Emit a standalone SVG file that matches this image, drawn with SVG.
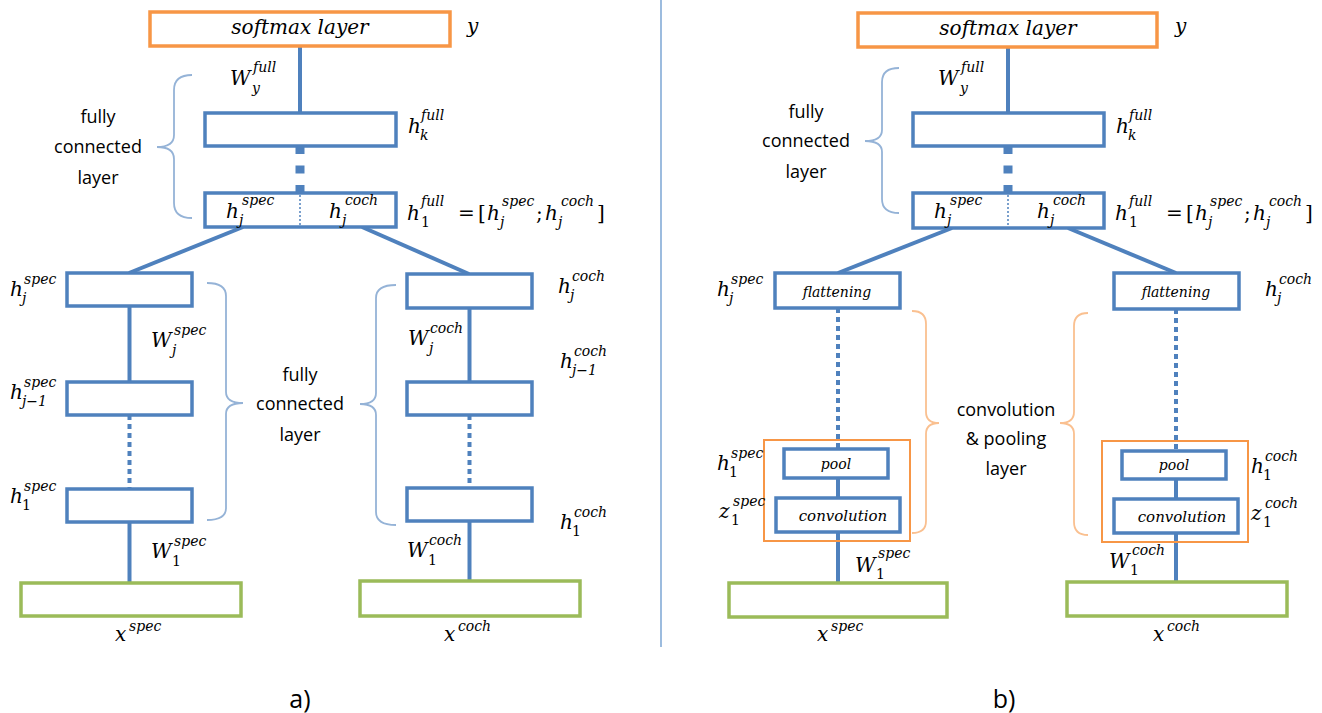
<svg xmlns="http://www.w3.org/2000/svg" width="1322" height="713" viewBox="0 0 1322 713">
<style>
.b{fill:#fff;stroke:#4F81BD;stroke-width:3.5}
.o{fill:#fff;stroke:#F79646;stroke-width:3.5}
.oc{fill:none;stroke:#F79646;stroke-width:2}
.g{fill:#fff;stroke:#9BBB59;stroke-width:3.5}
.c{stroke:#4F81BD;stroke-width:4;fill:none}
.d{stroke:#4F81BD;stroke-width:4;stroke-dasharray:5 4;fill:none}
.dd{stroke:#4F81BD;stroke-width:9;stroke-dasharray:8 11.5;fill:none}
.thin{stroke:#4F81BD;stroke-width:1.5;stroke-dasharray:2 2;fill:none}
.br{fill:none;stroke:#95B3D7;stroke-width:1.8}
.bro{fill:none;stroke:#FAC090;stroke-width:1.8}
.m{font-family:"DejaVu Serif",serif;font-style:italic;font-size:20px;fill:#000}
.s{font-size:14px}
.u{font-style:normal}
.bx{font-family:"DejaVu Serif",serif;font-style:italic;font-size:14px;fill:#000;text-anchor:middle}
.t{font-family:"Open Sans",sans-serif;font-size:18px;fill:#000;text-anchor:middle}
.cap{font-family:"Open Sans",sans-serif;font-size:25px;fill:#000;text-anchor:middle}
</style>

<line x1="661" y1="0" x2="661" y2="647" stroke="#5B8FC9" stroke-width="1.2"/>

<g id="connectors">
  <line class="c" x1="300" y1="46" x2="300" y2="113"/>
  <line class="dd" x1="300" y1="146" x2="300" y2="193"/>
  <line class="c" x1="243" y1="227" x2="129" y2="273"/>
  <line class="c" x1="362" y1="227" x2="469" y2="274"/>
  <line class="c" x1="129.5" y1="306" x2="129.5" y2="382"/>
  <line class="d" x1="129.5" y1="415" x2="129.5" y2="489"/>
  <line class="c" x1="129.5" y1="522" x2="129.5" y2="583"/>
  <line class="c" x1="469.5" y1="308" x2="469.5" y2="382"/>
  <line class="d" x1="469.5" y1="415" x2="469.5" y2="488"/>
  <line class="c" x1="469.5" y1="521" x2="469.5" y2="581"/>

  <line class="c" x1="1008" y1="47" x2="1008" y2="113"/>
  <line class="dd" x1="1008" y1="146" x2="1008" y2="193"/>
  <line class="c" x1="952" y1="228" x2="838" y2="273"/>
  <line class="c" x1="1068" y1="228" x2="1176" y2="273"/>
  <line class="d" x1="838" y1="308" x2="838" y2="449"/>
  <line class="c" x1="838" y1="478" x2="838" y2="498"/>
  <line class="c" x1="838" y1="532" x2="838" y2="583"/>
  <line class="d" x1="1176" y1="309" x2="1176" y2="451"/>
  <line class="c" x1="1176" y1="479" x2="1176" y2="499"/>
  <line class="c" x1="1176" y1="533" x2="1176" y2="582"/>
</g>

<g id="braces">
  <path class="br" d="M192 75 Q174 75 174 90 L174 135 Q174 147 157 147 Q174 147 174 159 L174 203 Q174 218 192 218"/>
  <path class="br" d="M207 283 Q226 283 226 296 L226 392 Q226 403 243 403 Q226 403 226 414 L226 508 Q226 520 207 520"/>
  <path class="br" d="M396 285 Q376 285 376 298 L376 393 Q376 404 360 404 Q376 404 376 415 L376 512 Q376 525 396 525"/>
  <path class="br" d="M899 68 Q882 68 882 82 L882 130 Q882 141 865 141 Q882 141 882 152 L882 199 Q882 213 899 213"/>
  <path class="bro" d="M912 311 Q926 311 926 324 L926 412 Q926 423 939 423 Q926 423 926 434 L926 521 Q926 533 912 533"/>
  <path class="bro" d="M1088 313 Q1074 313 1074 326 L1074 412 Q1074 423 1060 423 Q1074 423 1074 434 L1074 522 Q1074 535 1088 535"/>
</g>

<!-- Panel a nodes -->
<g id="a-softmax"><rect class="o" x="150" y="12" width="300" height="34"/><text class="m" x="300" y="34" text-anchor="middle">softmax layer</text></g>
<g id="a-hk"><rect class="b" x="205" y="113" width="191" height="33"/></g>
<g id="a-h1"><rect class="b" x="205" y="193" width="191" height="34"/><line class="thin" x1="300" y1="195" x2="300" y2="225"/>
  <text class="m" x="226" y="218">h</text><text class="m s" x="242" y="205">spec</text><text class="m s" x="239" y="225">j</text>
  <text class="m" x="329" y="218">h</text><text class="m s" x="345" y="205">coch</text><text class="m s" x="342" y="225">j</text>
</g>
<g id="a-spec-hj"><rect class="b" x="67" y="273" width="125" height="33"/></g>
<g id="a-spec-hj1"><rect class="b" x="67" y="382" width="125" height="33"/></g>
<g id="a-spec-h1"><rect class="b" x="67" y="489" width="125" height="33"/></g>
<g id="a-coch-hj"><rect class="b" x="407" y="274" width="125" height="34"/></g>
<g id="a-coch-hj1"><rect class="b" x="407" y="382" width="125" height="33"/></g>
<g id="a-coch-h1"><rect class="b" x="407" y="488" width="125" height="33"/></g>
<g id="a-xspec"><rect class="g" x="21" y="583" width="220" height="33"/></g>
<g id="a-xcoch"><rect class="g" x="360" y="581" width="220" height="35"/></g>

<!-- Panel b nodes -->
<g id="b-softmax"><rect class="o" x="858" y="13" width="299" height="34"/><text class="m" x="1008" y="35" text-anchor="middle">softmax layer</text></g>
<g id="b-hk"><rect class="b" x="913" y="113" width="191" height="33"/></g>
<g id="b-h1"><rect class="b" x="913" y="193" width="191" height="35"/><line class="thin" x1="1008" y1="195" x2="1008" y2="226"/>
  <text class="m" x="934" y="218">h</text><text class="m s" x="950" y="205">spec</text><text class="m s" x="947" y="225">j</text>
  <text class="m" x="1037" y="218">h</text><text class="m s" x="1053" y="205">coch</text><text class="m s" x="1050" y="225">j</text>
</g>
<g id="b-flat-spec"><rect class="b" x="775" y="273" width="125" height="35"/><text class="bx" x="837" y="297">flattening</text></g>
<g id="b-flat-coch"><rect class="b" x="1114" y="273" width="125" height="36"/><text class="bx" x="1176" y="297">flattening</text></g>
<g id="b-conv-spec-group"><rect class="oc" x="764" y="440" width="146" height="101"/>
  <rect class="b" x="784" y="449" width="104" height="29"/><text class="bx" x="836" y="469">pool</text>
  <rect class="b" x="776" y="498" width="124" height="34"/><text class="bx" x="843" y="521" style="font-size:15px">convolution</text>
</g>
<g id="b-conv-coch-group"><rect class="oc" x="1102" y="441" width="146" height="101"/>
  <rect class="b" x="1122" y="451" width="104" height="28"/><text class="bx" x="1174" y="470">pool</text>
  <rect class="b" x="1114" y="499" width="124" height="34"/><text class="bx" x="1182" y="522" style="font-size:15px">convolution</text>
</g>
<g id="b-xspec"><rect class="g" x="729" y="583" width="218" height="34"/></g>
<g id="b-xcoch"><rect class="g" x="1067" y="582" width="220" height="34"/></g>

<!-- Text labels -->
<g id="labels-a">
  <text class="m" x="467" y="33">y</text>
  <text class="m" x="230" y="85">W</text><text class="m s" x="253" y="72">full</text><text class="m s" x="252" y="93">y</text>
  <text class="m" x="408" y="133">h</text><text class="m s" x="421" y="120">full</text><text class="m s" x="420" y="140">k</text>
  <text class="m" x="407" y="220">h</text><text class="m s" x="421" y="206">full</text><text class="m s u" x="421" y="227">1</text>
  <text class="m u" x="458" y="220">=</text><text class="m u" x="478" y="220">[</text>
  <text class="m" x="487" y="220">h</text><text class="m s" x="502" y="206">spec</text><text class="m s" x="500" y="227">j</text>
  <text class="m u" x="536" y="220">;</text>
  <text class="m" x="545" y="220">h</text><text class="m s" x="561" y="206">coch</text><text class="m s" x="558" y="227">j</text>
  <text class="m u" x="597" y="220">]</text>

  <text class="t" x="98" y="123">fully</text><text class="t" x="98" y="153">connected</text><text class="t" x="98" y="184">layer</text>
  <text class="t" x="300" y="381">fully</text><text class="t" x="300" y="410">connected</text><text class="t" x="300" y="441">layer</text>

  <text class="m" x="10" y="296">h</text><text class="m s" x="24" y="284">spec</text><text class="m s" x="22" y="303">j</text>
  <text class="m" x="151" y="347">W</text><text class="m s" x="174" y="335">spec</text><text class="m s" x="172" y="355">j</text>
  <text class="m" x="10" y="399">h</text><text class="m s" x="24" y="387">spec</text><text class="m s" x="22" y="406">j−1</text>
  <text class="m" x="10" y="503">h</text><text class="m s" x="24" y="491">spec</text><text class="m s u" x="22" y="510">1</text>
  <text class="m" x="151" y="558">W</text><text class="m s" x="174" y="546">spec</text><text class="m s u" x="172" y="566">1</text>
  <text class="m" x="115" y="641">x</text><text class="m s" x="129" y="631">spec</text>

  <text class="m" x="558" y="293">h</text><text class="m s" x="572" y="281">coch</text><text class="m s" x="570" y="300">j</text>
  <text class="m" x="408" y="345">W</text><text class="m s" x="430" y="333">coch</text><text class="m s" x="429" y="353">j</text>
  <text class="m" x="560" y="368">h</text><text class="m s" x="574" y="356">coch</text><text class="m s" x="572" y="375">j−1</text>
  <text class="m" x="560" y="529">h</text><text class="m s" x="574" y="517">coch</text><text class="m s u" x="572" y="536">1</text>
  <text class="m" x="407" y="557">W</text><text class="m s" x="429" y="545">coch</text><text class="m s u" x="428" y="565">1</text>
  <text class="m" x="444" y="641">x</text><text class="m s" x="458" y="631">coch</text>

  <text class="cap" x="300" y="708">a)</text>
</g>

<g id="labels-b">
  <text class="m" x="1175" y="33">y</text>
  <text class="m" x="938" y="85">W</text><text class="m s" x="961" y="72">full</text><text class="m s" x="960" y="93">y</text>
  <text class="m" x="1116" y="133">h</text><text class="m s" x="1129" y="120">full</text><text class="m s" x="1128" y="140">k</text>
  <text class="m" x="1115" y="220">h</text><text class="m s" x="1129" y="206">full</text><text class="m s u" x="1129" y="227">1</text>
  <text class="m u" x="1166" y="220">=</text><text class="m u" x="1186" y="220">[</text>
  <text class="m" x="1195" y="220">h</text><text class="m s" x="1210" y="206">spec</text><text class="m s" x="1208" y="227">j</text>
  <text class="m u" x="1244" y="220">;</text>
  <text class="m" x="1253" y="220">h</text><text class="m s" x="1269" y="206">coch</text><text class="m s" x="1266" y="227">j</text>
  <text class="m u" x="1305" y="220">]</text>

  <text class="t" x="806" y="118">fully</text><text class="t" x="806" y="147">connected</text><text class="t" x="806" y="178">layer</text>
  <text class="t" x="1006" y="416">convolution</text><text class="t" x="1006" y="445">&amp; pooling</text><text class="t" x="1006" y="475">layer</text>

  <text class="m" x="717" y="296">h</text><text class="m s" x="731" y="284">spec</text><text class="m s" x="729" y="303">j</text>
  <text class="m" x="1265" y="296">h</text><text class="m s" x="1279" y="284">coch</text><text class="m s" x="1277" y="303">j</text>
  <text class="m" x="717" y="470">h</text><text class="m s" x="731" y="458">spec</text><text class="m s u" x="729" y="477">1</text>
  <text class="m" x="1251" y="473">h</text><text class="m s" x="1265" y="461">coch</text><text class="m s u" x="1263" y="480">1</text>
  <text class="m" x="719" y="518">z</text><text class="m s" x="733" y="506">spec</text><text class="m s u" x="731" y="525">1</text>
  <text class="m" x="1251" y="520">z</text><text class="m s" x="1265" y="508">coch</text><text class="m s u" x="1263" y="527">1</text>
  <text class="m" x="855" y="572">W</text><text class="m s" x="878" y="558">spec</text><text class="m s u" x="876" y="579">1</text>
  <text class="m" x="1109" y="568">W</text><text class="m s" x="1132" y="555">coch</text><text class="m s u" x="1130" y="575">1</text>
  <text class="m" x="817" y="641">x</text><text class="m s" x="831" y="631">spec</text>
  <text class="m" x="1153" y="641">x</text><text class="m s" x="1167" y="631">coch</text>

  <text class="cap" x="1004" y="708">b)</text>
</g>
</svg>
